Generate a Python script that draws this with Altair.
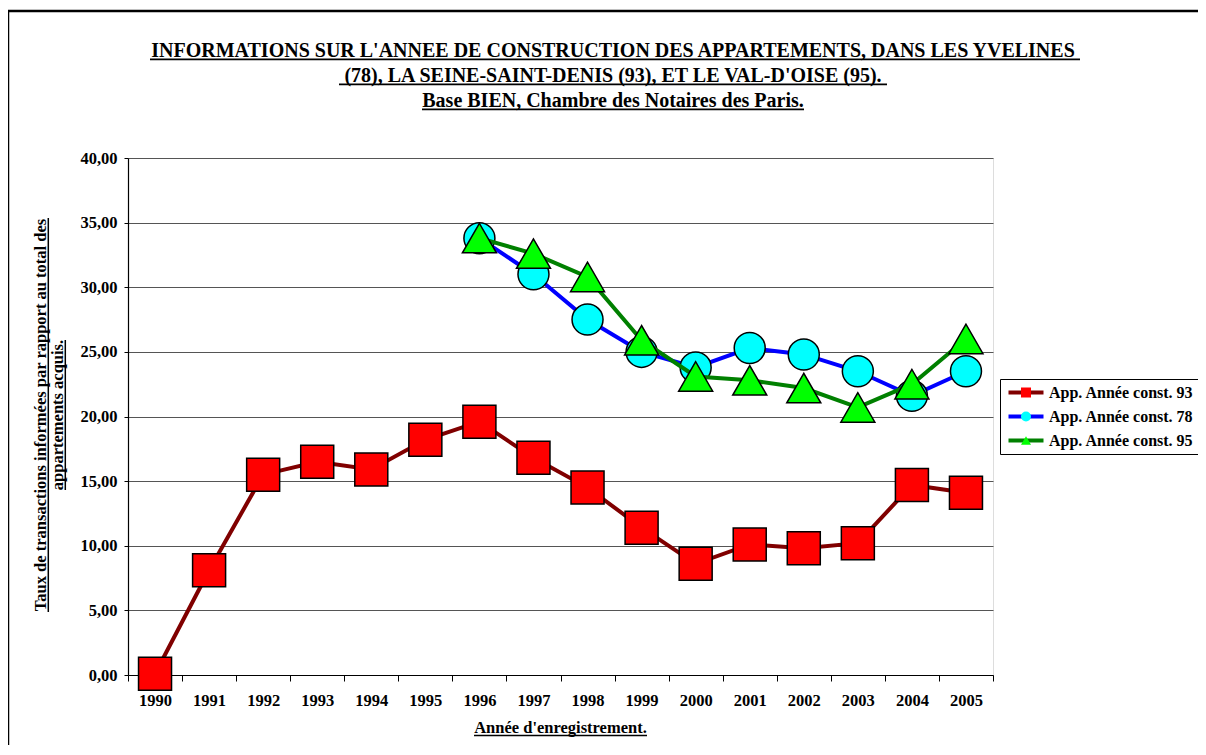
import altair as alt
import pandas as pd

# ---------------- data ----------------
years = [str(y) for y in range(1990, 2006)]
series_codes = ["93", "78", "95"]
label_prefix = "App. Année const. "

years_93 = years
values_93 = [0.1, 8.1, 15.5, 16.5, 15.9, 18.2, 19.6, 16.8, 14.5, 11.4, 8.6, 10.1, 9.8, 10.2, 14.7, 14.1]

years_78 = years[6:]
values_78 = [33.8, 31.0, 27.5, 25.0, 23.8, 25.3, 24.8, 23.5, 21.6, 23.5]

years_95 = years[6:]
values_95 = [33.8, 32.6, 30.8, 25.9, 23.1, 22.8, 22.2, 20.7, 22.5, 26.0]

y_ticks = [0, 5, 10, 15, 20, 25, 30, 35, 40]

title_lines = [
    "INFORMATIONS SUR L'ANNEE DE CONSTRUCTION DES APPARTEMENTS, DANS LES YVELINES",
    "(78), LA SEINE-SAINT-DENIS (93), ET LE VAL-D'OISE (95).",
    "Base BIEN, Chambre des Notaires des Paris.",
]
y_title_lines = ["Taux de transactions informées par rapport au total des", "appartements acquis."]
x_title = "Année d'enregistrement."

# ---------------- styles ----------------
line_colors = ["#800000", "#0000FF", "#008000"]
fill_colors = ["#FF0000", "#00FFFF", "#00FF00"]
shapes = ["square", "circle", "triangle-up"]
sizes = [1089, 961, 1156]
FONT = "Liberation Serif"

series_names = [label_prefix + c for c in series_codes]
rows = []
for code, yrs, vals in [(series_codes[0], years_93, values_93),
                        (series_codes[1], years_78, values_78),
                        (series_codes[2], years_95, values_95)]:
    for yr, v in zip(yrs, vals):
        rows.append({"series": label_prefix + code, "code": code, "year": yr, "value": v})
df = pd.DataFrame(rows)
one = pd.DataFrame({"a": [0]})

W, H = 865, 517

x_enc = alt.X(
    "year:O",
    bandPosition=0.5,
    scale=alt.Scale(type="band", domain=years, paddingInner=0, paddingOuter=0),
    axis=alt.Axis(title=None, tickBand="extent", labelAngle=0, labelFont=FONT,
                  labelFontWeight="bold", labelFontSize=16.5, labelColor="black",
                  tickColor="black", tickSize=6, domainColor="black", domainWidth=1.2,
                  labelPadding=11, grid=False),
)
y_enc = alt.Y(
    "value:Q",
    scale=alt.Scale(domain=[0, 40], nice=False),
    axis=alt.Axis(title=None, values=y_ticks,
                  labelExpr="replace(format(datum.value, '.2f'), '.', ',')",
                  labelFont=FONT, labelFontWeight="bold", labelFontSize=16.5,
                  labelColor="black", tickColor="black", tickSize=4, labelPadding=7,
                  domainColor="black", domainWidth=1.2, grid=True, gridColor="#555555",
                  gridWidth=1),
)

common_leg = dict(title=None, orient="none", legendX=872, legendY=221, symbolSize=100,
                  labelFont=FONT, labelFontWeight="bold", labelFontSize=16,
                  labelColor="black", padding=5.5, rowPadding=8, symbolOffset=12.5,
                  labelOffset=15, labelLimit=0)
leg_lines = alt.Legend(symbolType="M-3.5,0H3.5", symbolStrokeWidth=4, labelOpacity=0,
                       strokeColor="black", fillColor="white", **common_leg)
leg_points = alt.Legend(symbolStrokeColor="black", symbolStrokeWidth=1.2,
                        labelExpr="'" + label_prefix + "' + datum.label", **common_leg)

color_enc = alt.Color("series:N", scale=alt.Scale(domain=series_names, range=line_colors),
                      legend=leg_lines)
fill_enc = alt.Fill("code:N", scale=alt.Scale(domain=series_codes, range=fill_colors),
                    legend=leg_points)
shape_enc = alt.Shape("code:N", scale=alt.Scale(domain=series_codes, range=shapes),
                      legend=leg_points)

layers = []
# outer frame
layers.append(alt.Chart(one).mark_rect(fill="transparent", stroke="black", strokeWidth=2.5).encode(
    x=alt.value(-120), x2=alt.value(1090), y=alt.value(-147), y2=alt.value(650)))

for i, code in enumerate(series_codes):
    sub = df[df.code == code]
    layers.append(alt.Chart(sub).mark_line(strokeWidth=4).encode(x=x_enc, y=y_enc, color=color_enc))
    layers.append(alt.Chart(sub).mark_point(filled=True, size=sizes[i], stroke="black",
                                            strokeWidth=1.5, opacity=1).encode(
        x=x_enc, y=y_enc, fill=fill_enc, shape=shape_enc))

# title lines with underlines
title_cx = 485
title_base = [-101.5, -76.5, -51.5]
title_ul = [(22, 952), (485 - 274, 485 + 274), (485 - 191, 485 + 191)]
for t, yb, (u0, u1) in zip(title_lines, title_base, title_ul):
    layers.append(alt.Chart(one).mark_text(font=FONT, fontWeight="bold", fontSize=20,
                                           align="center", baseline="alphabetic", color="black").encode(
        x=alt.value(title_cx), y=alt.value(yb), text=alt.value(t)))
    layers.append(alt.Chart(one).mark_rule(color="black", strokeWidth=1.8).encode(
        x=alt.value(u0), x2=alt.value(u1), y=alt.value(yb + 2.8)))

# y title (rotated) with underlines
ycy = 257
for t, xb, half in zip(y_title_lines, [-82, -65], [197, 75]):
    layers.append(alt.Chart(one).mark_text(font=FONT, fontWeight="bold", fontSize=16.5, angle=270,
                                           align="center", baseline="alphabetic", color="black").encode(
        x=alt.value(xb), y=alt.value(ycy), text=alt.value(t)))
    layers.append(alt.Chart(one).mark_rule(color="black", strokeWidth=1.5).encode(
        x=alt.value(xb + 2.3), y=alt.value(ycy - half), y2=alt.value(ycy + half)))

# x title with underline
layers.append(alt.Chart(one).mark_text(font=FONT, fontWeight="bold", fontSize=16.5,
                                       align="center", baseline="alphabetic", color="black").encode(
    x=alt.value(432.5), y=alt.value(575), text=alt.value(x_title)))
layers.append(alt.Chart(one).mark_rule(color="black", strokeWidth=1.5).encode(
    x=alt.value(432.5 - 86.5), x2=alt.value(432.5 + 86.5), y=alt.value(577.5)))

chart = alt.layer(*layers).properties(
    width=W, height=H,
    padding={"left": 120, "top": 150, "right": 205, "bottom": 70},
    autosize=alt.AutoSizeParams(type="none"),
).configure_view(stroke="#808080", strokeWidth=1).configure(background="white")

chart.save("out.html", embed_options={"renderer": "svg", "actions": False})
